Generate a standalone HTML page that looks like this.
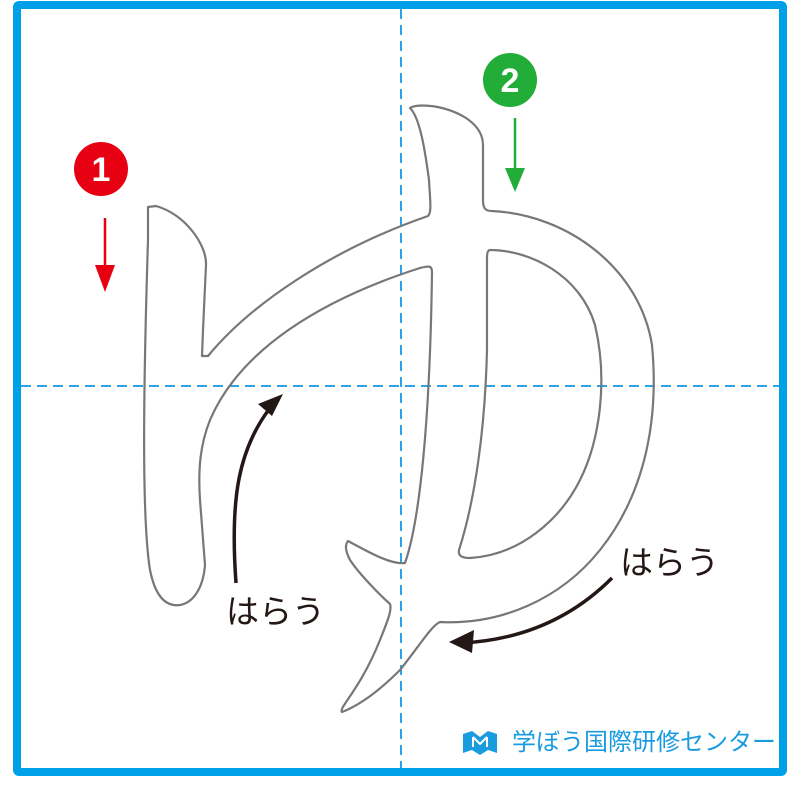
<!DOCTYPE html>
<html><head><meta charset="utf-8"><style>
html,body{margin:0;padding:0;background:#fff;}
svg{display:block;}
</style></head><body>
<svg width="800" height="788" viewBox="0 0 800 788" xmlns="http://www.w3.org/2000/svg">
<rect x="0" y="0" width="800" height="788" fill="#fff"/>
<rect x="17" y="5" width="766" height="767" fill="none" stroke="#00a0e9" stroke-width="8" rx="2"/>
<line x1="401" y1="9" x2="401" y2="768" stroke="#2aa4e6" stroke-width="2" stroke-dasharray="10,6"/>
<line x1="21" y1="386" x2="779" y2="386" stroke="#2aa4e6" stroke-width="2" stroke-dasharray="10,6"/>
<path d="M148,207 L156,206 C185,214 207,245 206,265 L203,330 L202,356 L208,356 C250,305 330,250 428,216 C432,212 430,200 429,180 C425,150 420,118 410,108 C418,103 445,105 466,118 C478,126 483,135 483,145 L483,200 C483,208 485,211 492,211 C570,215 640,270 652,345 C660,430 640,500 600,550 C560,600 500,625 440,622 C432,625 420,645 400,670 C380,690 360,705 342,712 C338,708 360,690 380,640 C388,620 392,610 390,604 C380,595 360,575 350,560 C345,550 345,545 348,541 C365,550 390,565 405,563 C420,520 430,420 432,272 C432,265 428,266 420,268 C320,300 240,350 210,420 C200,445 198,470 200,500 L205,565 C203,590 192,603 180,605 C165,607 155,595 150,570 C142,520 143,400 148,240 Z" fill="none" stroke="#777" stroke-width="2.2" stroke-linejoin="round"/>
<path d="M490,250 C530,250 580,275 595,325 C608,380 600,440 580,480 C560,520 520,555 470,558 C462,558 458,556 459,550 C475,500 485,430 487,350 L487,258 C487,252 488,250 490,250 Z" fill="none" stroke="#777" stroke-width="2.2" stroke-linejoin="round"/>
<circle cx="101" cy="169" r="27" fill="#e60012"/>
<text x="101" y="181" text-anchor="middle" font-family="Liberation Sans, sans-serif" font-weight="bold" font-size="34" fill="#fff">1</text>
<line x1="105" y1="218" x2="105" y2="268" stroke="#e60012" stroke-width="2.5"/>
<polygon points="95,265 115,265 105,292" fill="#e60012"/>
<circle cx="510" cy="80" r="27" fill="#22ac38"/>
<text x="510" y="92" text-anchor="middle" font-family="Liberation Sans, sans-serif" font-weight="bold" font-size="34" fill="#fff">2</text>
<line x1="515" y1="118" x2="515" y2="172" stroke="#22ac38" stroke-width="2.5"/>
<polygon points="505,168 525,168 515,192" fill="#22ac38"/>
<path d="M236,583 C230,500 238,450 270,408" fill="none" stroke="#231815" stroke-width="3.5"/>
<polygon points="283,394 258,404 272,416" fill="#231815"/>
<path d="M612,578 C570,620 520,640 462,643" fill="none" stroke="#231815" stroke-width="3.5"/>
<polygon points="449,642 474,630 472,653" fill="#231815"/>
<text x="226" y="623" font-family="Liberation Sans, Noto Sans CJK JP, sans-serif" font-size="33" fill="#231815">はらう</text>
<text x="620" y="574" font-family="Liberation Sans, Noto Sans CJK JP, sans-serif" font-size="33" fill="#231815">はらう</text>
<g fill="#1a9be0">
<path d="M463,734 L472,731 L480,737 L488,731 L497,734 L497,753 L488,750 L480,755 L472,750 L463,753 Z"/>
</g>
<path d="M473,737 L473,747 M487,737 L487,747 M473,737 L480,744 L487,737" stroke="#fff" stroke-width="2" fill="none"/>
<text x="512" y="750" font-family="Liberation Sans, Noto Sans CJK JP, sans-serif" font-size="24" fill="#1a9be0">学ぼう国際研修センター</text>
</svg>
</body></html>
